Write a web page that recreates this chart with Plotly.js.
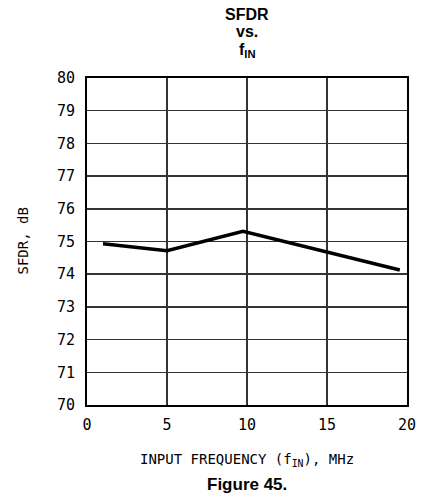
<!DOCTYPE html>
<html>
<head>
<meta charset="utf-8">
<script src="https://cdn.plot.ly/plotly-3.0.1.min.js"></script>
<style>html,body{margin:0;padding:0;background:#fff;}#chart{width:423px;height:499px;}</style>
</head>
<body>
<div id="chart"></div>
<script>
var freqMHz = [1, 5, 9.75, 19.55];
var sfdrDb = [74.93, 74.72, 75.31, 74.13];
var xTicks = [0, 5, 10, 15, 20];
var yTicks = [70, 71, 72, 73, 74, 75, 76, 77, 78, 79, 80];

var monoFont = 'DejaVu Sans Mono, monospace';
var boldFont = 'Liberation Sans, Arial, sans-serif';
var tickFont = {family: monoFont, size: 15, color: '#000'};

function ann(text, x, y, font, extra) {
  var a = {text: text, xref: 'paper', yref: 'paper', x: x, y: y,
           xanchor: 'center', yanchor: 'middle', showarrow: false, font: font};
  for (var k in (extra || {})) a[k] = extra[k];
  return a;
}

var titleFont = {family: boldFont, size: 16, color: '#000'};
var axFont = {family: monoFont, size: 14, color: '#000'};

Plotly.newPlot('chart', [{
  x: freqMHz,
  y: sfdrDb,
  type: 'scatter',
  mode: 'lines',
  line: {color: '#000', width: 3.5},
  hoverinfo: 'skip'
}], {
  width: 423,
  height: 499,
  margin: {l: 87, r: 16, t: 78, b: 94},
  paper_bgcolor: '#fff',
  plot_bgcolor: '#fff',
  showlegend: false,
  xaxis: {
    range: [0, 20],
    tickvals: xTicks,
    ticktext: xTicks.map(String),
    showgrid: true, gridcolor: '#333', gridwidth: 1.5,
    showline: true, linecolor: '#000', linewidth: 2, mirror: true,
    zeroline: false, ticks: '', ticklen: 0,
    ticklabelstandoff: 5,
    tickfont: tickFont,
    fixedrange: true
  },
  yaxis: {
    range: [70, 80],
    tickvals: yTicks,
    ticktext: yTicks.map(String),
    showgrid: true, gridcolor: '#333', gridwidth: 1.5,
    showline: true, linecolor: '#000', linewidth: 2, mirror: true,
    zeroline: false, ticks: '', ticklen: 0,
    ticklabelstandoff: 7,
    tickfont: tickFont,
    fixedrange: true
  },
  annotations: [
    ann('<b>SFDR</b>', 0.5, 1.1927, titleFont),
    ann('<b>vs.</b>', 0.5, 1.1407, titleFont),
    ann('<b>f<sub>IN</sub></b>', 0.5, 1.0856, titleFont),
    ann('INPUT FREQUENCY (f<sub>IN</sub>), MHz', 0.5, -0.168, axFont),
    ann('SFDR, dB', -0.203, 0.5, axFont, {textangle: -90}),
    ann('<b>Figure 45.</b>', 0.5, -0.2446, {family: boldFont, size: 17, color: '#000'})
  ]
}, {displayModeBar: false, staticPlot: true});
</script>
</body>
</html>
